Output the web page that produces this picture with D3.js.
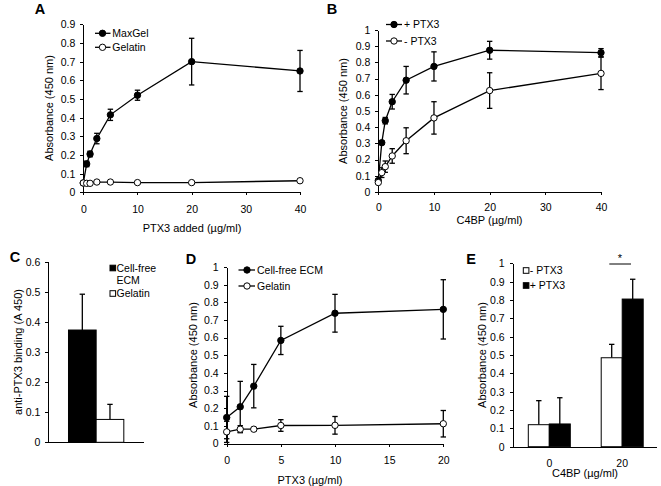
<!DOCTYPE html>
<html><head><meta charset="utf-8">
<script src="https://cdn.jsdelivr.net/npm/d3@7"></script>
<style>
html,body{margin:0;padding:0;background:#fff;}
svg{display:block;font-family:"Liberation Sans",Arial,sans-serif;}
.axis path,.axis line{stroke:#000;stroke-width:1;shape-rendering:crispEdges;}
.axis text{font-size:10.5px;fill:#000;font-family:"Liberation Sans",Arial,sans-serif;}
</style></head>
<body>
<svg id="chart" width="661" height="486"></svg>
<script>
// ---- Panel A data ----
const aX = [0, 0.625, 1.25, 2.5, 5, 10, 20, 40];
const aMaxGel = [0.05, 0.152, 0.205, 0.288, 0.415, 0.52, 0.70, 0.65];
const aMaxGelErr = [0, 0.015, 0.015, 0.028, 0.03, 0.027, 0.125, 0.11];
const aGelatin = [0.05, 0.048, 0.048, 0.055, 0.055, 0.052, 0.052, 0.062];
const aGelatinErr = [0, 0, 0, 0, 0, 0, 0, 0];
const aYTicks = [0, 0.1, 0.2, 0.3, 0.4, 0.5, 0.6, 0.7, 0.8, 0.9];
const aXTicks = [0, 10, 20, 30, 40];

// ---- Panel B data ----
const bX = [0, 0.625, 1.25, 2.5, 5, 10, 20, 40];
const bPlus = [0.07, 0.304, 0.44, 0.557, 0.69, 0.775, 0.875, 0.86];
const bPlusErr = [0, 0.01, 0.02, 0.045, 0.085, 0.09, 0.055, 0.025];
const bMinus = [0.058, 0.119, 0.156, 0.222, 0.316, 0.457, 0.626, 0.732];
const bMinusErr = [0, 0.03, 0.035, 0.045, 0.08, 0.1, 0.11, 0.1];
const bYTicks = [0, 0.1, 0.2, 0.3, 0.4, 0.5, 0.6, 0.7, 0.8, 0.9, 1];
const bXTicks = [0, 10, 20, 30, 40];

// ---- Panel C data ----
const cCats = ["Cell-free ECM", "Gelatin"];
const cVals = [0.373, 0.076];
const cErr = [0.119, 0.05];
const cYTicks = [0, 0.1, 0.2, 0.3, 0.4, 0.5, 0.6];

// ---- Panel D data ----
const dX = [0, 1.25, 2.5, 5, 10, 20];
const dECM = [0.147, 0.208, 0.325, 0.584, 0.738, 0.76];
const dECMErr = [0.12, 0.144, 0.123, 0.08, 0.107, 0.168];
const dGel = [0.066, 0.081, 0.081, 0.102, 0.103, 0.112];
const dGelErr = [0.06, 0.02, 0.01, 0.033, 0.05, 0.075];
const dYTicks = [0, 0.1, 0.2, 0.3, 0.4, 0.5, 0.6, 0.7, 0.8, 0.9, 1];
const dXTicks = [0, 5, 10, 15, 20];

// ---- Panel E data ----
const eGroups = ["0", "20"];
const eMinus = [0.12, 0.485];
const eMinusErr = [0.131, 0.073];
const ePlus = [0.124, 0.805];
const ePlusErr = [0.143, 0.108];
const eYTicks = [0, 0.1, 0.2, 0.3, 0.4, 0.5, 0.6, 0.7, 0.8, 0.9, 1];

const svg = d3.select("#chart");
const fmt = d => d === 0 ? "0" : (d === 1 ? "1" : d.toFixed(1));

function yAxis(g, y, ticks) {
  g.attr("class", "axis").call(d3.axisLeft(y).tickValues(ticks).tickFormat(fmt).tickSize(3).tickPadding(5).tickSizeOuter(0));
}
function xAxisLin(g, x, ticks, pad) {
  g.attr("class", "axis").call(d3.axisBottom(x).tickValues(ticks).tickFormat(d3.format("d")).tickSize(3).tickPadding(pad).tickSizeOuter(0));
}
function label(txt, x, y) {
  svg.append("text").attr("x", x).attr("y", y).attr("dy", "0.35em").attr("text-anchor", "middle")
    .attr("font-size", 14.5).attr("font-weight", "bold").text(txt);
}
function title(txt, x, y, rot) {
  const t = svg.append("text").attr("text-anchor", "middle").attr("font-size", 11).attr("dy", "0.35em").text(txt);
  if (rot) t.attr("transform", `translate(${x},${y}) rotate(-90)`);
  else t.attr("x", x).attr("y", y);
}
function errBars(g, x, y, xs, ys, es, cap) {
  xs.forEach((xv, i) => {
    const e = es[i];
    if (!e) return;
    const cx = x(xv), t = y(ys[i] + e), b = y(ys[i] - e);
    g.append("line").attr("x1", cx).attr("x2", cx).attr("y1", t).attr("y2", b).attr("stroke", "#000").attr("stroke-width", 1.3);
    [t, b].forEach(v => g.append("line").attr("x1", cx - cap).attr("x2", cx + cap).attr("y1", v).attr("y2", v).attr("stroke", "#000").attr("stroke-width", 1.3));
  });
}
function series(g, x, y, xs, ys, es, filled) {
  const line = d3.line().x((d, i) => x(xs[i])).y(d => y(d));
  g.append("path").attr("d", line(ys)).attr("fill", "none").attr("stroke", "#000").attr("stroke-width", 1.3);
  errBars(g, x, y, xs, ys, es, 2.7);
  g.selectAll(null).data(ys).enter().append("circle")
    .attr("cx", (d, i) => x(xs[i])).attr("cy", d => y(d)).attr("r", 3.2)
    .attr("fill", filled ? "#000" : "#fff").attr("stroke", "#000").attr("stroke-width", 1);
}
function lineLegend(x0, x1, mx, tx, yy, txt, filled) {
  svg.append("line").attr("x1", x0).attr("x2", x1).attr("y1", yy).attr("y2", yy).attr("stroke", "#000").attr("stroke-width", 1.3);
  svg.append("circle").attr("cx", mx).attr("cy", yy).attr("r", 3.2)
    .attr("fill", filled ? "#000" : "#fff").attr("stroke", "#000");
  svg.append("text").attr("x", tx).attr("y", yy).attr("dy", "0.35em").attr("font-size", 10.5).text(txt);
}
function boxLegend(x, yy, txt, filled) {
  svg.append("rect").attr("x", x).attr("y", yy - 2.8).attr("width", 5.6).attr("height", 5.6)
    .attr("fill", filled ? "#000" : "#fff").attr("stroke", "#000").attr("stroke-width", 1);
  svg.append("text").attr("x", x + 6.5).attr("y", yy).attr("dy", "0.35em").attr("font-size", 10.5).text(txt);
}

// ================= Panel A =================
{
  const x = d3.scaleLinear().domain([0, 40]).range([83.3, 300]);
  const y = d3.scaleLinear().domain([0, 0.9]).range([192.3, 24.3]);
  const g = svg.append("g");
  g.append("g").attr("transform", `translate(0,${y(0)})`).call(xAxisLin, x, aXTicks, 10);
  g.append("g").attr("transform", `translate(${x(0)},0)`).call(yAxis, y, aYTicks);
  series(g, x, y, aX, aMaxGel, aMaxGelErr, true);
  series(g, x, y, aX, aGelatin, aGelatinErr, false);
  lineLegend(95, 110.5, 102.5, 112.3, 33.3, "MaxGel", true);
  lineLegend(95, 110.5, 102.5, 112.3, 47.3, "Gelatin", false);
  title("PTX3 added (µg/ml)", 192, 228, false);
  title("Absorbance (450 nm)", 49, 108, true);
  label("A", 40, 9);
}
// ================= Panel B =================
{
  const x = d3.scaleLinear().domain([0, 40]).range([378.3, 601]);
  const y = d3.scaleLinear().domain([0, 1]).range([191.9, 30]);
  const g = svg.append("g");
  g.append("g").attr("transform", `translate(0,${y(0)})`).call(xAxisLin, x, bXTicks, 8.5);
  g.append("g").attr("transform", `translate(${x(0)},0)`).call(yAxis, y, bYTicks);
  series(g, x, y, bX, bPlus, bPlusErr, true);
  series(g, x, y, bX, bMinus, bMinusErr, false);
  lineLegend(386, 402, 394, 404, 24.5, "+ PTX3", true);
  lineLegend(386, 402, 394, 404, 41, "- PTX3", false);
  title("C4BP (µg/ml)", 489.5, 220, false);
  title("Absorbance (450 nm)", 343.5, 111, true);
  label("B", 332, 9);
}
// ================= Panel C =================
{
  const x = d3.scaleBand().domain(cCats).range([48.3, 144]).paddingInner(0).paddingOuter(0.73);
  const y = d3.scaleLinear().domain([0, 0.6]).range([442.3, 261.7]);
  const g = svg.append("g");
  g.append("line").attr("x1", 48.3).attr("x2", 144).attr("y1", y(0)).attr("y2", y(0)).attr("stroke", "#000").attr("shape-rendering", "crispEdges");
  cCats.forEach((c, i) => {
    const cx = x(c) + x.bandwidth() / 2, t = y(cVals[i] + cErr[i]);
    g.append("line").attr("x1", cx).attr("x2", cx).attr("y1", y(cVals[i])).attr("y2", t).attr("stroke", "#000").attr("stroke-width", 1.3);
    g.append("line").attr("x1", cx - 2.7).attr("x2", cx + 2.7).attr("y1", t).attr("y2", t).attr("stroke", "#000").attr("stroke-width", 1.3);
  });
  g.selectAll(null).data(cVals).enter().append("rect")
    .attr("x", (d, i) => x(cCats[i])).attr("width", x.bandwidth())
    .attr("y", d => y(d)).attr("height", d => y(0) - y(d))
    .attr("fill", (d, i) => i === 0 ? "#000" : "#fff").attr("stroke", "#000").attr("stroke-width", 1);
  g.append("g").attr("transform", `translate(48.3,0)`).call(yAxis, y, cYTicks);
  boxLegend(110, 268, "Cell-free", true);
  svg.append("text").attr("x", 116.5).attr("y", 280.5).attr("dy", "0.35em").attr("font-size", 10.5).text("ECM");
  boxLegend(110, 293.5, "Gelatin", false);
  title("anti-PTX3 binding (A 450)", 18.5, 352, true);
  label("C", 15, 257);
}
// ================= Panel D =================
{
  const x = d3.scaleLinear().domain([0, 20]).range([226.7, 443.3]);
  const y = d3.scaleLinear().domain([0, 1]).range([443.5, 267]);
  const g = svg.append("g");
  g.append("g").attr("transform", `translate(0,${y(0)})`).call(xAxisLin, x, dXTicks, 10);
  g.append("g").attr("transform", `translate(${x(0)},0)`).call(yAxis, y, dYTicks);
  series(g, x, y, dX, dECM, dECMErr, true);
  series(g, x, y, dX, dGel, dGelErr, false);
  lineLegend(238.5, 255, 247, 257, 270, "Cell-free ECM", true);
  lineLegend(238.5, 255, 247, 257, 286, "Gelatin", false);
  title("PTX3 (µg/ml)", 310, 480, false);
  title("Absorbance (450 nm)", 193, 355, true);
  label("D", 191, 259);
}
// ================= Panel E =================
{
  const x0 = d3.scaleBand().domain(eGroups).range([512.7, 658.8]).paddingInner(0.424).paddingOuter(0.214);
  const x1 = d3.scaleBand().domain(["-", "+"]).range([0, x0.bandwidth()]);
  const y = d3.scaleLinear().domain([0, 1]).range([446.7, 263.3]);
  const g = svg.append("g");
  const sets = [["-", eMinus, eMinusErr, "#fff"], ["+", ePlus, ePlusErr, "#000"]];
  sets.forEach(([k, vals, errs, fill]) => {
    eGroups.forEach((grp, i) => {
      const cx = x0(grp) + x1(k) + x1.bandwidth() / 2, t = y(vals[i] + errs[i]);
      g.append("line").attr("x1", cx).attr("x2", cx).attr("y1", y(vals[i])).attr("y2", t).attr("stroke", "#000").attr("stroke-width", 1.3);
      g.append("line").attr("x1", cx - 2.7).attr("x2", cx + 2.7).attr("y1", t).attr("y2", t).attr("stroke", "#000").attr("stroke-width", 1.3);
    });
  });
  sets.forEach(([k, vals, errs, fill]) => {
    g.selectAll(null).data(vals).enter().append("rect")
      .attr("x", (d, i) => x0(eGroups[i]) + x1(k)).attr("width", x1.bandwidth())
      .attr("y", d => y(d)).attr("height", d => y(0) - y(d))
      .attr("fill", fill).attr("stroke", "#000").attr("stroke-width", 1);
  });
  const xa = g.append("g").attr("class", "axis").attr("transform", `translate(0,${y(0)})`)
    .call(d3.axisBottom(x0).tickSize(0).tickPadding(12.5).tickSizeOuter(0));
  xa.select(".domain").attr("d", `M512.7,0.5H657`);
  g.append("g").attr("transform", `translate(512.7,0)`).call(yAxis, y, eYTicks);
  // significance
  g.append("line").attr("x1", 609.3).attr("x2", 631).attr("y1", 264).attr("y2", 264).attr("stroke", "#000").attr("stroke-width", 1);
  g.append("text").attr("x", 620).attr("y", 262).attr("text-anchor", "middle").attr("font-size", 11).text("*");
  boxLegend(523.3, 270.5, "- PTX3", false);
  boxLegend(523.3, 285.5, "+ PTX3", true);
  title("C4BP (µg/ml)", 585, 473, false);
  title("Absorbance (450 nm)", 481.7, 355, true);
  label("E", 471, 259);
}
</script>
</body></html>
